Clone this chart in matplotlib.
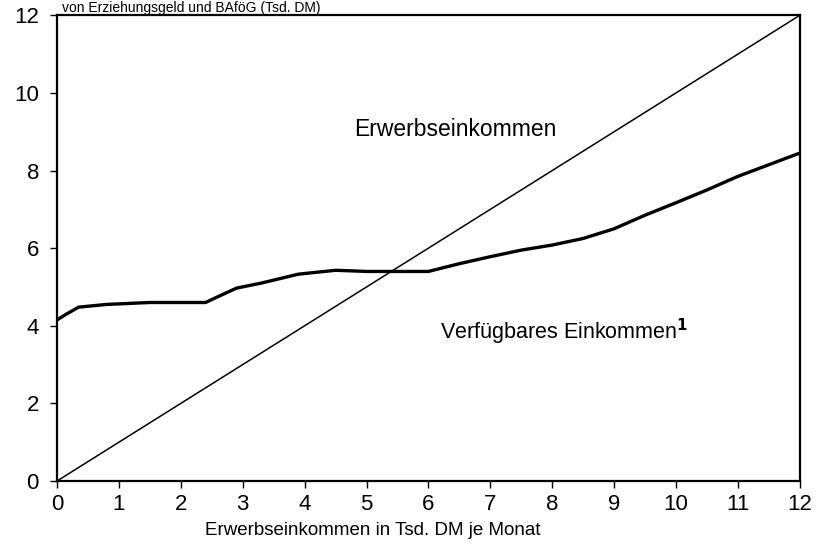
import matplotlib
matplotlib.use("Agg")
import matplotlib.pyplot as plt

plt.rcParams['font.family'] = ['Liberation Sans', 'DejaVu Sans']

# Erwerbseinkommen (Tsd. DM je Monat)
einkommen_x = [0, 0.15, 0.35, 0.8, 1.5, 2.0, 2.4, 2.6, 2.9, 3.3, 3.9, 4.5, 5.0, 5.5, 6.0, 6.5, 7.0, 7.5, 8.0, 8.5, 9.0, 9.5, 10.0, 10.5, 11.0, 11.5, 12.0]
# Verfuegbares Einkommen (Tsd. DM)
verfuegbar = [4.15, 4.3, 4.48, 4.55, 4.6, 4.6, 4.6, 4.75, 4.97, 5.1, 5.33, 5.43, 5.4, 5.4, 5.4, 5.6, 5.78, 5.95, 6.08, 6.25, 6.5, 6.85, 7.17, 7.5, 7.85, 8.15, 8.45]

# 45-Grad-Linie: Erwerbseinkommen
diag_x = [0, 12]
diag_y = [0, 12]

xticks = list(range(0, 13))
yticks = [0, 2, 4, 6, 8, 10, 12]

fig = plt.figure(figsize=(8.19, 5.46), dpi=100)
ax = fig.add_axes([0.0696, 0.119, 0.907, 0.853])

ax.plot(diag_x, diag_y, color='black', linewidth=1.1)
ax.plot(einkommen_x, verfuegbar, color='black', linewidth=2.4, solid_capstyle='butt')

ax.set_xlim(0, 12)
ax.set_ylim(0, 12)
ax.set_xticks(xticks)
ax.set_yticks(yticks)
ax.tick_params(axis='both', labelsize=16, length=5, width=1, direction='out')
ax.tick_params(axis='y', pad=8)
ax.tick_params(axis='x', pad=4)
for s in ax.spines.values():
    s.set_linewidth(1.6)

ax.set_xlabel("Erwerbseinkommen in Tsd. DM je Monat", fontsize=13.5, labelpad=1)
ax.xaxis.set_label_coords(0.425, -0.088)

ax.text(6.43, 9.05, "Erwerbseinkommen", fontsize=16.5, ha='center', va='center')
ax.text(6.19, 3.85, "Verfügbares Einkommen$^{\\mathbf{1}}$", fontsize=15.5, ha='left', va='center')

fig.text(0.076, 0.999, "von Erziehungsgeld und BAföG (Tsd. DM)", fontsize=10, ha='left', va='top')

fig.savefig("out.png", dpi=100)
